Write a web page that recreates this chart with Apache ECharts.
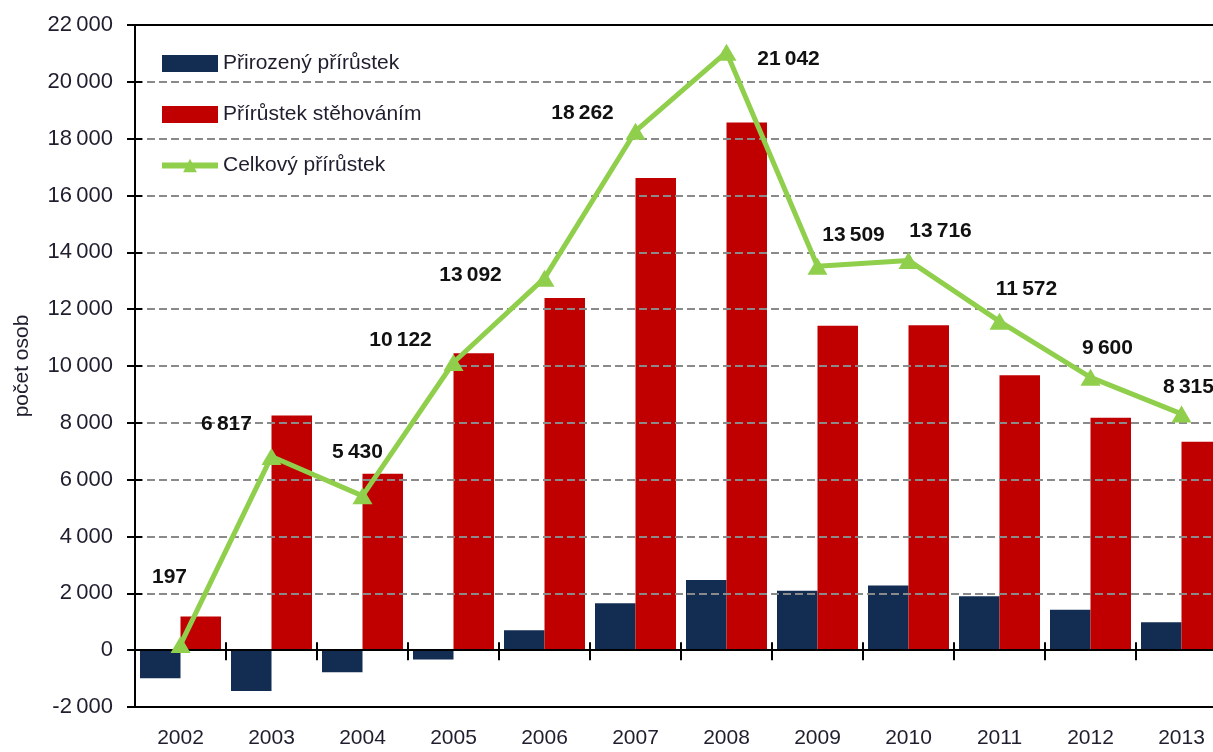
<!DOCTYPE html>
<html>
<head>
<meta charset="utf-8">
<script src="https://cdn.jsdelivr.net/npm/echarts@6/dist/echarts.min.js"></script>
<style>
  html, body { margin: 0; padding: 0; background: #fff; }
  #chart { width: 1213px; height: 752px; }
</style>
</head>
<body>
<div id="chart"></div>
<script>
// roky
var years = ['2002', '2003', '2004', '2005', '2006', '2007', '2008', '2009', '2010', '2011', '2012', '2013'];
// přirozený přírůstek (odhad z obrázku)
var natural = [-990, -1440, -780, -330, 700, 1650, 2470, 2090, 2280, 1900, 1420, 980];
// přírůstek stěhováním (odhad z obrázku)
var migration = [1187, 8257, 6210, 10452, 12392, 16612, 18572, 11419, 11436, 9672, 8180, 7335];
// celkový přírůstek
var total = [197, 6817, 5430, 10122, 13092, 18262, 21042, 13509, 13716, 11572, 9600, 8315];

var seriesNames = ['Přirozený přírůstek', 'Přírůstek stěhováním', 'Celkový přírůstek'];

// posun popisků od bodu [x, y]
var labelShift = [[-11, -67], [-45, -32], [-5, -44], [-53, -22], [-74, -3], [-53, -18],
                  [62, 7], [36, -31], [32, -29], [27, -32], [17, -29], [7, -27]];

var FONT = "'Liberation Sans', Arial, sans-serif";

function fmt(v) {
    return String(v).replace(/\B(?=(\d{3})+(?!\d))/g, '\u2009');
}

var chart = echarts.init(document.getElementById('chart'));

var totalData = total.map(function (v, i) {
    return { value: v, label: { offset: labelShift[i] } };
});

function xAx(extra) {
    var base = {
        type: 'category',
        data: years,
        boundaryGap: true,
        axisLabel: { show: false },
        axisTick: { show: false },
        axisLine: { show: true, lineStyle: { color: '#000', width: 2 } },
        splitLine: { show: false },
        z: 3
    };
    return Object.assign(base, extra);
}

var option = {
    animation: false,
    textStyle: { fontFamily: FONT },
    grid: { left: 135, top: 25, width: 1092, height: 682, containLabel: false, outerBoundsMode: 'none' },
    legend: {
        orient: 'vertical',
        left: 154,
        top: 48,
        itemWidth: 56,
        itemHeight: 17,
        itemGap: 30,
        data: [
            { name: seriesNames[0], icon: 'rect' },
            { name: seriesNames[1], icon: 'rect' },
            { name: seriesNames[2], lineStyle: { width: 6 } }
        ],
        textStyle: { fontFamily: FONT, fontSize: 21, color: '#1e1e2e' }
    },
    xAxis: [
        xAx({
            position: 'bottom',
            axisLine: { show: true, onZero: false, lineStyle: { color: '#000', width: 2 } },
            axisLabel: { show: true, margin: 21, fontSize: 21, color: '#1e1e2e', fontFamily: FONT }
        }),
        xAx({
            position: 'bottom',
            axisLine: { show: true, onZero: true, lineStyle: { color: '#000', width: 2 } },
            axisTick: { show: true, interval: 0, length: 10, lineStyle: { color: '#000', width: 2 } }
        }),
        xAx({
            position: 'top',
            axisLine: { show: true, onZero: true, lineStyle: { color: '#000', width: 2 } },
            axisTick: { show: true, interval: 0, length: 8, lineStyle: { color: '#000', width: 2 } }
        }),
        xAx({
            position: 'top',
            axisLine: { show: true, onZero: false, lineStyle: { color: '#000', width: 2 } }
        })
    ],
    yAxis: [
        {
            type: 'value',
            position: 'left',
            min: -2000,
            max: 22000,
            interval: 2000,
            name: 'počet osob',
            nameLocation: 'middle',
            nameRotate: 90,
            nameGap: 102,
            nameTextStyle: { fontSize: 21, color: '#1e1e2e', fontFamily: FONT },
            axisLine: { show: true, onZero: false, lineStyle: { color: '#000', width: 2 } },
            axisTick: { show: true, length: 8, lineStyle: { color: '#000', width: 2 } },
            axisLabel: { margin: 22, fontSize: 22, color: '#1e1e2e', fontFamily: FONT, formatter: fmt },
            splitLine: { show: true, lineStyle: { color: '#8a8a8a', width: 2, type: [8, 4] } },
            z: 3
        },
        {
            type: 'value',
            position: 'left',
            min: -2000,
            max: 22000,
            interval: 2000,
            axisLine: { show: false, onZero: false },
            axisTick: { show: true, inside: true, length: 7, lineStyle: { color: '#000', width: 2 } },
            axisLabel: { show: false },
            splitLine: { show: false },
            z: 3
        }
    ],
    series: [
        {
            name: seriesNames[0],
            type: 'bar',
            data: natural,
            barGap: '0%',
            barCategoryGap: '11%',
            itemStyle: { color: '#132d52' }
        },
        {
            name: seriesNames[1],
            type: 'bar',
            data: migration,
            barGap: '0%',
            barCategoryGap: '11%',
            itemStyle: { color: '#c00000' }
        },
        {
            name: seriesNames[2],
            type: 'line',
            data: totalData,
            z: 5,
            symbol: 'triangle',
            symbolSize: [20, 17],
            lineStyle: { color: '#8fcf4c', width: 5 },
            itemStyle: { color: '#8fcf4c' },
            label: {
                show: true,
                position: 'inside',
                align: 'center',
                verticalAlign: 'middle',
                fontSize: 21,
                fontWeight: 'bold',
                color: '#111',
                fontFamily: FONT,
                formatter: function (p) { return fmt(p.value); }
            }
        }
    ]
};

chart.setOption(option);
</script>
</body>
</html>
